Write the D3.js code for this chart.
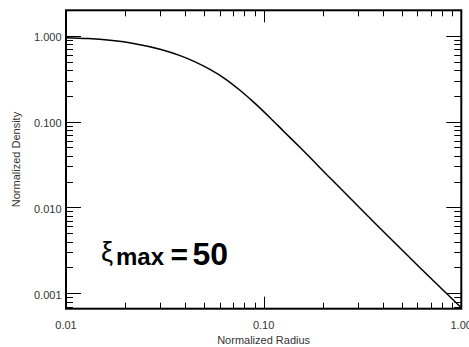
<!DOCTYPE html>
<html><head><meta charset="utf-8">
<script src="https://cdn.jsdelivr.net/npm/d3@7"></script>
<style>
html,body{margin:0;padding:0;background:#fff;}
svg{display:block;font-family:"Liberation Sans",Arial,Helvetica,sans-serif;}
</style></head>
<body><svg id="c" width="469" height="347"></svg>
<script>
// Data
const radius  = [0.010, 0.0129, 0.0167, 0.0223, 0.0299, 0.0378, 0.045, 0.0535, 0.0638, 0.0759, 0.0904, 0.1077, 0.128, 0.153, 0.217, 0.366, 0.618, 1.000];
const density = [0.948, 0.926, 0.883, 0.807, 0.696, 0.586, 0.496, 0.405, 0.315, 0.2315, 0.163, 0.111, 0.0747, 0.0498, 0.0220, 0.00653, 0.00198, 0.00068];
const xTickValues = [0.01, 0.1, 1];
const xTickLabels = ["0.01", "0.10", "1.00"];
const yTickValues = [0.001, 0.01, 0.1, 1];
const yTickLabels = ["0.001", "0.010", "0.100", "1.000"];
const xTitle = "Normalized Radius";
const yTitle = "Normalized Density";

const L = 66, R = 461.3, T = 10.3, B = 308.7;
const x = d3.scaleLog().domain([0.01, 1]).range([L, R]);
const y = d3.scaleLog().domain([0.000662, 1.976]).range([B, T]);
const svg = d3.select("#c");

function minors(domain) {
  const out = [];
  const lo = Math.floor(Math.log10(domain[0])), hi = Math.ceil(Math.log10(domain[1]));
  for (let e = lo; e <= hi; e++) for (let k = 1; k <= 9; k++) {
    const v = k * Math.pow(10, e);
    if (v >= domain[0] * 0.9999 && v <= domain[1] * 1.0001) out.push({v, major: k === 1});
  }
  return out;
}
const xt = minors(x.domain()), yt = minors(y.domain());
const g = svg.append("g").attr("stroke", "#000").attr("stroke-width", 1);
xt.forEach(t => {
  const px = Math.round(x(t.v)) + 0.5, len = t.major ? 12 : 6;
  g.append("line").attr("x1", px).attr("x2", px).attr("y1", B).attr("y2", B - len);
  g.append("line").attr("x1", px).attr("x2", px).attr("y1", T).attr("y2", T + len);
});
yt.forEach(t => {
  const py = Math.round(y(t.v)) + 0.5, len = t.major ? 15 : 7;
  g.append("line").attr("x1", L).attr("x2", L + len).attr("y1", py).attr("y2", py);
  g.append("line").attr("x1", R).attr("x2", R - len).attr("y1", py).attr("y2", py);
});
svg.append("rect").attr("x", L).attr("y", T).attr("width", R - L).attr("height", B - T)
  .attr("fill", "none").attr("stroke", "#000").attr("stroke-width", 2);

// curve
const pts = radius.map((r, i) => [r, density[i]]);
svg.append("path").datum(pts)
  .attr("d", d3.line().x(d => x(d[0])).y(d => y(d[1])).curve(d3.curveMonotoneX))
  .attr("fill", "none").attr("stroke", "#000").attr("stroke-width", 1.5);

// tick labels
svg.selectAll(".xl").data(xTickValues).enter().append("text")
  .attr("x", d => x(d)).attr("y", 329).attr("text-anchor", "middle")
  .attr("font-size", 11).attr("fill", "#333").text((d, i) => xTickLabels[i]);
svg.selectAll(".yl").data(yTickValues).enter().append("text")
  .attr("x", 61.5).attr("y", d => y(d) + 5.5).attr("text-anchor", "end")
  .attr("font-size", 11).attr("fill", "#333").text((d, i) => yTickLabels[i]);

// axis titles
svg.append("text").attr("x", (L + R) / 2).attr("y", 344).attr("text-anchor", "middle")
  .attr("font-size", 11).attr("fill", "#333").text(xTitle);
svg.append("text").attr("transform", `translate(20,${(T + B) / 2}) rotate(-90)`)
  .attr("text-anchor", "middle").attr("font-size", 11).attr("fill", "#333").text(yTitle);

// annotation
const ann = svg.append("text").attr("fill", "#000");
ann.append("tspan").attr("x", 101).attr("y", 260.5).attr("font-size", 27).attr("font-weight", "normal").text("ξ");
ann.append("tspan").attr("x", 116).attr("y", 265).attr("font-size", 24).attr("font-weight", "bold").text("max");
ann.append("tspan").attr("x", 170.5).attr("y", 265).attr("font-size", 30).attr("font-weight", "bold").text("=");
ann.append("tspan").attr("x", 192.5).attr("y", 265).attr("font-size", 32).attr("font-weight", "bold").text("50");
</script></body></html>
